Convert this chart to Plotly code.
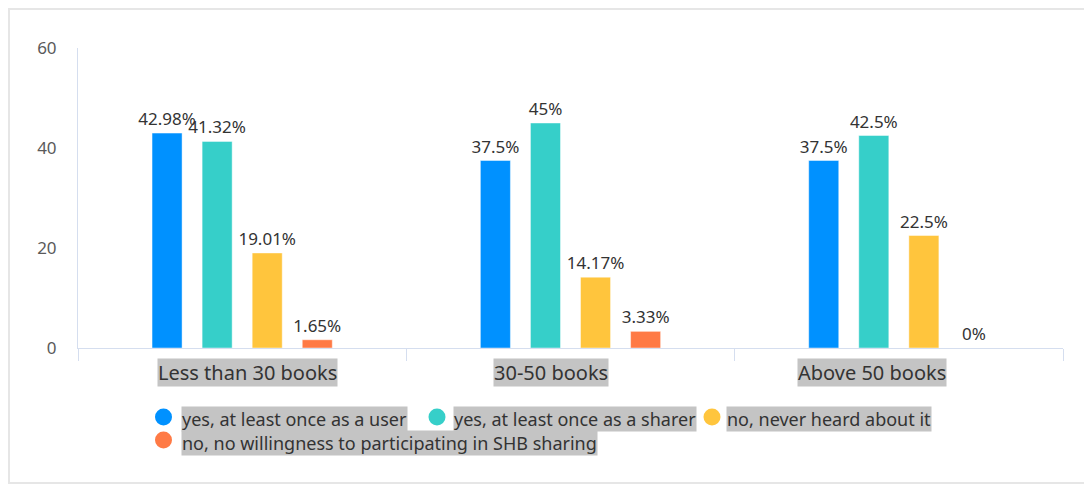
import plotly.graph_objects as go

categories = ["Less than 30 books", "30-50 books", "Above 50 books"]
series_names = [
    "yes, at least once as a user",
    "yes, at least once as a sharer",
    "no, never heard about it",
    "no, no willingness to participating in SHB sharing",
]
user_vals = [42.98, 37.5, 37.5]
sharer_vals = [41.32, 45, 42.5]
never_vals = [19.01, 14.17, 22.5]
unwilling_vals = [1.65, 3.33, 0]
colors = ["#0091FF", "#36CFC9", "#FFC53D", "#FF7A45"]
y_ticks = [0, 20, 40, 60]

# page body has an 8px margin; work in screen coords and convert
OFF = 8
W, H = 1084, 478
L, R, T, B = 70, 29, 40, 138
PW, PH = W - L - R, H - T - B

def px(x):
    return (x - OFF - L) / PW

def py(y):
    return (H - B - (y - OFF)) / PH

fig = go.Figure()
for name, vals, c in zip(series_names, [user_vals, sharer_vals, never_vals, unwilling_vals], colors):
    fig.add_trace(go.Bar(
        x=categories, y=vals, name=name, marker_color=c,
        marker_line=dict(width=1, color="rgba(255,255,255,0.45)"),
        texttemplate="%{y}%", textposition="outside", cliponaxis=False, constraintext="none",
        textfont=dict(size=17, color="#333333"), showlegend=False,
    ))

FONT = "Noto Sans, Lato, sans-serif"
fig.update_layout(
    width=W, height=H, margin=dict(l=L, r=R, t=T, b=B, autoexpand=False),
    paper_bgcolor="white", plot_bgcolor="white",
    barmode="group", bargap=0.39, bargroupgap=0.4,
    font=dict(family=FONT, color="#333333"),
    xaxis=dict(showticklabels=False, showline=True, linecolor="#D5DEEF", linewidth=1,
               ticks="outside", tickson="boundaries", ticklen=12, tickcolor="#D5DEEF",
               showgrid=False, zeroline=False, automargin=False),
    yaxis=dict(range=[0, 60], tickvals=y_ticks, showline=True, linecolor="#D5DEEF",
               showgrid=False, zeroline=False, ticks="", ticklabelstandoff=17,
               tickfont=dict(size=17, color="#5A5A5A"), automargin=False),
)

# category labels with gray highlight
shifts = [5, -20, -27]
for cat, s in zip(categories, shifts):
    fig.add_annotation(x=cat, y=py(372.5), xref="x", yref="paper", text=cat, showarrow=False,
                       xshift=s, yanchor="middle", bgcolor="#C4C4C4",
                       font=dict(size=20, color="#333333"), borderpad=0)

# custom legend
circle_pos = [(163.5, 417), (437, 417), (712, 417), (163.5, 440)]
text_pos = [(181, 419), (453, 419), (726, 419), (181, 443)]
for name, c, (cx, cy), (tx, ty) in zip(series_names, colors, circle_pos, text_pos):
    fig.add_shape(type="circle", xref="paper", yref="paper", xsizemode="pixel", ysizemode="pixel",
                  xanchor=px(cx), yanchor=py(cy), x0=-8.5, x1=8.5, y0=-8.5, y1=8.5,
                  fillcolor=c, line_width=0)
    fig.add_annotation(x=px(tx), y=py(ty), xref="paper", yref="paper", text=name,
                       showarrow=False, xanchor="left", yanchor="middle", bgcolor="#C4C4C4",
                       font=dict(size=18, color="#333333"), borderpad=0)

# outer border
fig.add_shape(type="rect", xref="paper", yref="paper", x0=px(9), x1=px(1087), y0=py(9), y1=py(483),
              line=dict(color="#E6E6E6", width=2), layer="below")

fig.write_html("out.html")
